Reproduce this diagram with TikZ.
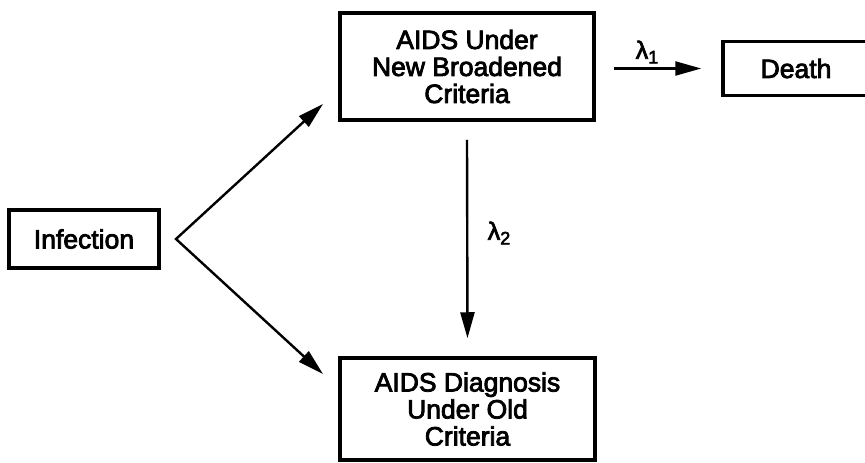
\documentclass[tikz,border=0pt]{standalone}
\usepackage{fontspec}
\setmainfont{Liberation Sans}
\newfontfamily\heavy{Liberation Sans}[FakeBold=3]
\usetikzlibrary{arrows.meta}
\newcommand{\lab}[1]{λ\raisebox{-0.35ex}{\fontsize{18}{18}\selectfont #1}}
\begin{document}
\begin{tikzpicture}[x=1pt,y=-1pt,
  box/.style={draw,line width=3.5pt,align=center,inner sep=0pt,
    font=\heavy\fontsize{26.5}{27}\selectfont},
  conn/.style={line width=2.4pt,-{Triangle[length=26pt,width=14pt]}},
  lbl/.style={font=\heavy\fontsize{25}{25}\selectfont,inner sep=0pt}]
\useasboundingbox (0,0) rectangle (865,463);
\node[box,minimum width=150,minimum height=58] (inf) at (84,239) {Infection};
\node[box,minimum width=254,minimum height=107] (top) at (467,66.5) {AIDS Under\\New Broadened\\Criteria};
\node[box,minimum width=146,minimum height=54] (death) at (796,68.5) {Death};
\node[box,minimum width=255,minimum height=102] (bot) at (467.5,409) {AIDS Diagnosis\\Under Old\\Criteria};
\coordinate (v) at (176,239);
\coordinate (tu) at (323,104);
\coordinate (tl) at (323,374);
\draw[line width=2.4pt,miter limit=10,{Triangle[length=26pt,width=14pt]}-{Triangle[length=26pt,width=14pt]}] (tu) -- (v) -- (tl);
\draw[conn] ([yshift=-18]top.south) -- ([yshift=18]bot.north);
\draw[conn] ([xshift=18]top.east |- death.west) -- ([xshift=-20]death.west);
\node[lbl] (l1) at (647,52) {\lab{1}};
\node[lbl] (l2) at (499,233) {\lab{2}};
\end{tikzpicture}
\end{document}
